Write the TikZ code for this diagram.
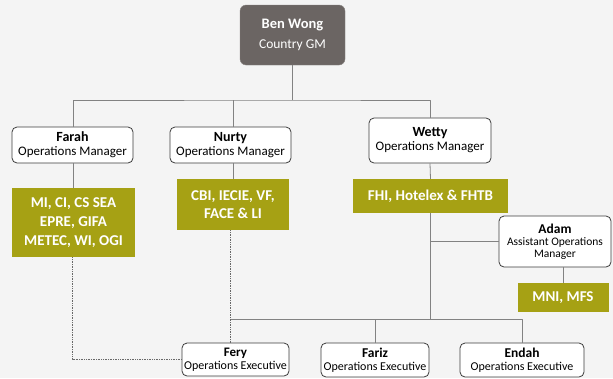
\documentclass[tikz,border=0pt]{standalone}
\usepackage{fontspec}
\setmainfont{Carlito}
\usetikzlibrary{positioning,calc}
\definecolor{bgray}{RGB}{244,244,244}
\definecolor{boss}{RGB}{107,101,99}
\definecolor{olive}{RGB}{166,161,20}
\definecolor{wire}{RGB}{130,130,130}
\definecolor{rim}{RGB}{60,60,60}
\begin{document}
\begin{tikzpicture}[x=1pt, y=-1pt, line join=round,
  gm/.style={draw=boss!80, fill=boss, rounded corners=6pt, text=white, align=center, inner sep=0pt},
  mgr/.style={draw=rim, fill=white, rounded corners=5pt, line width=0.8pt, align=center, inner sep=0pt, font=\fontsize{13}{14}\selectfont},
  exec/.style={mgr, font=\fontsize{12}{12.5}\selectfont},
  unit/.style={fill=olive, text=white, align=center, inner sep=0pt, font=\bfseries\fontsize{15}{19}\selectfont},
  wirel/.style={draw=wire, line width=0.8pt},
  dotl/.style={draw=wire!80!black, densely dotted, line width=0.7pt}]
\fill[bgray] (0,0) rectangle (613,378);
\useasboundingbox (0,0) rectangle (613,378);
\node[gm, minimum width=105, minimum height=60] (ben) at (292.5,35)
  {{\bfseries\fontsize{14.5}{14.5}\selectfont Ben Wong}\\[8pt]{\fontsize{13.5}{13.5}\selectfont Country GM}};
\node[mgr, minimum width=121, minimum height=36] (farah) at (72.5,145)
  {{\bfseries\fontsize{14}{14}\selectfont Farah}\\Operations Manager};
\node[mgr, minimum width=121, minimum height=36] (nurty) at (230.5,145)
  {{\bfseries\fontsize{14}{14}\selectfont Nurty}\\Operations Manager};
\node[mgr, minimum width=122, minimum height=45] (wetty) at (430,140.5)
  {{\bfseries\fontsize{14}{14}\selectfont Wetty}\\Operations Manager};
\node[unit, minimum width=123, minimum height=69] (farahU) at (73.5,222.5)
  {MI, CI, CS SEA\\EPRE, GIFA\\METEC, WI, OGI};
\node[unit, minimum width=112, minimum height=51, font=\bfseries\fontsize{15}{18}\selectfont] (nurtyU) at (233,204.5)
  {CBI, IECIE, VF,\\FACE \& LI};
\node[unit, minimum width=155, minimum height=34] (wettyU) at (430.5,196)
  {FHI, Hotelex \& FHTB};
\node[mgr, minimum width=112, minimum height=51, font=\fontsize{11.5}{12}\selectfont] (adam) at (555,241.5)
  {{\bfseries\fontsize{13.5}{13}\selectfont Adam}\\Assistant Operations\\Manager};
\node[unit, minimum width=91, minimum height=29] (adamU) at (563,297.5)
  {MNI, MFS};
\node[exec, minimum width=107, minimum height=33] (fery) at (235.5,359.5)
  {{\bfseries\fontsize{13}{13}\selectfont Fery}\\Operations Executive};
\node[exec, minimum width=108, minimum height=34] (fariz) at (375,360)
  {{\bfseries\fontsize{13.5}{13.5}\selectfont Fariz}\\Operations Executive};
\node[exec, minimum width=124, minimum height=34] (endah) at (522,360)
  {{\bfseries\fontsize{13.5}{13.5}\selectfont Endah}\\Operations Executive};
\coordinate (topbus) at (292.5,100);
\coordinate (lowbus) at (430.5,319);
\draw[wirel] (ben.south) -- (topbus);
\draw[wirel] (farahU.north |- farah.north) |- (topbus) -| (wetty.north);
\draw[wirel] (nurtyU.north |- nurty.north) -- (nurtyU.north |- topbus);
\draw[wirel] (farahU.north |- farah.south) -- (farahU.north);
\draw[wirel] (nurtyU.north |- nurty.south) -- (nurtyU.north);
\draw[wirel] (wetty.south) -- (wettyU.north);
\draw[wirel] (wettyU.south) -- (lowbus);
\draw[wirel] (adam.west -| wettyU.south) -- (adam.west);
\draw[wirel] (adamU.north) -- (adamU.north |- adam.south);
\draw[wirel] (nurty.south |- lowbus) -- (lowbus -| endah.north) -- (endah.north);
\draw[wirel] (fariz.north) -- (fariz.north |- lowbus);
\draw[dotl] (nurty.south |- nurtyU.south) -- (nurty.south |- fery.north);
\draw[dotl] (farah.south |- farahU.south) |- (fery.west);
\end{tikzpicture}
\end{document}
